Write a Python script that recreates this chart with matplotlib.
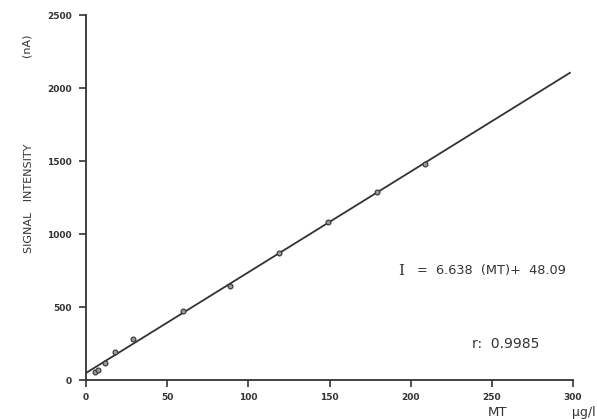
import matplotlib.pyplot as plt
import numpy as np

# Valori
mt = [5.5, 7.5, 12, 18, 29, 60, 89, 119, 149, 179, 209]
signal = [58, 70, 116, 190, 282, 472, 644, 870, 1082, 1288, 1479]
line_x = [0, 298]
slope = 6.9
intercept = 48.09
xticks = [0, 50, 100, 150, 200, 250, 300]
yticks = [0, 500, 1000, 1500, 2000, 2500]

ink = '#333333'

fig = plt.figure(figsize=(5.97, 4.19), dpi=100)
ax = fig.add_axes([0.144, 0.093, 0.816, 0.871])

lx = np.array(line_x)
ax.plot(lx, slope * lx + intercept, color=ink, linewidth=1.3)
ax.plot(mt, signal, 'o', markersize=3.5, markerfacecolor='#999999',
        markeredgecolor=ink, markeredgewidth=0.8)

ax.set_xlim(0, 300)
ax.set_ylim(0, 2500)
ax.set_xticks(xticks)
ax.set_yticks(yticks)
ax.tick_params(labelsize=6.5, colors=ink, width=1.2, length=5)
ax.tick_params(axis='x', pad=4)
ax.tick_params(axis='y', pad=5)
for lab in ax.get_xticklabels() + ax.get_yticklabels():
    lab.set_fontweight('bold')

for s in ['top', 'right']:
    ax.spines[s].set_visible(False)
for s in ['left', 'bottom']:
    ax.spines[s].set_color(ink)
    ax.spines[s].set_linewidth(1.3)

fig.text(0.048, 0.527, 'SIGNAL   INTENSITY', rotation=90, ha='center', va='center',
         fontsize=8, color=ink)
fig.text(0.045, 0.893, '(nA)', rotation=90, ha='center', va='center',
         fontsize=8, color=ink)
fig.text(0.833, 0.016, 'MT', ha='center', va='center', fontsize=9.5, color=ink)
fig.text(0.997, 0.016, 'µg/l', ha='right', va='center', fontsize=9, color=ink)

ax.text(0.64, 0.30, 'I', transform=ax.transAxes, fontsize=11, family='serif',
        color=ink, va='center')
ax.text(0.679, 0.30, '=  6.638  (MT)+  48.09', transform=ax.transAxes,
        fontsize=9.3, color=ink, va='center')
ax.text(0.793, 0.099, 'r:  0.9985', transform=ax.transAxes,
        fontsize=10, color=ink, va='center')

fig.savefig('out.png', dpi=100)
